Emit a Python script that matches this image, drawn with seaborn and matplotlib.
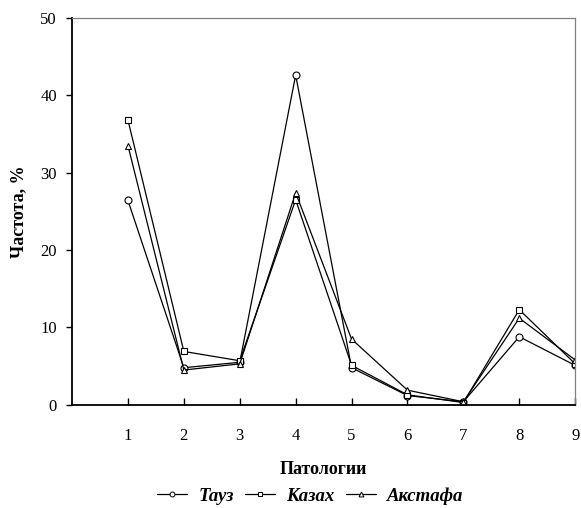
import matplotlib
matplotlib.use("Agg")
import matplotlib.pyplot as plt
import seaborn as sns
import pandas as pd
from matplotlib.lines import Line2D

categories = [1, 2, 3, 4, 5, 6, 7, 8, 9]
tauz = [26.4, 4.8, 5.5, 42.6, 4.8, 1.2, 0.4, 8.8, 5.1]
kazakh = [36.8, 6.9, 5.7, 26.5, 5.1, 1.3, 0.3, 12.3, 5.3]
akstafa = [33.5, 4.5, 5.3, 27.4, 8.5, 1.9, 0.4, 11.2, 5.8]
series_names = ["Тауз", "Казах", "Акстафа"]
markers = ["o", "s", "^"]

sns.set_theme(style="white")
plt.rcParams["font.family"] = ["Liberation Serif", "DejaVu Serif"]
plt.rcParams["text.color"] = "black"
plt.rcParams["axes.labelcolor"] = "black"
plt.rcParams["xtick.color"] = "black"
plt.rcParams["ytick.color"] = "black"

fig = plt.figure(figsize=(5.81, 5.08), dpi=100)
ax = fig.add_axes([0.124, 0.203, 0.866, 0.762])

handles = []
for name, vals, m in zip(series_names, [tauz, kazakh, akstafa], markers):
    df = pd.DataFrame({"x": categories, "y": vals})
    sns.lineplot(data=df, x="x", y="y", ax=ax, color="black", lw=0.9,
                 marker=m, markersize=5, markerfacecolor="white",
                 markeredgecolor="black", markeredgewidth=0.8)
    handles.append(Line2D([], [], color="black", lw=0.9, marker=m, markersize=3.5,
                          markerfacecolor="white", markeredgecolor="black",
                          markeredgewidth=0.7, label=name))

ax.set_xlim(0, 9)
ax.set_ylim(0, 50)
ax.set_xticks(categories)
ax.set_yticks([0, 10, 20, 30, 40, 50])
ax.tick_params(axis="x", direction="in", length=5, width=1, pad=17, labelsize=12,
               colors="black", labelcolor="black")
ax.tick_params(axis="y", direction="out", length=4, width=1, pad=7, labelsize=12,
               colors="black", labelcolor="black")
ax.xaxis.set_ticks_position("bottom")
ax.yaxis.set_ticks_position("left")

for s in ["left", "bottom"]:
    ax.spines[s].set_color("black")
    ax.spines[s].set_linewidth(1.3)
for s in ["top", "right"]:
    ax.spines[s].set_color("#808080")
    ax.spines[s].set_linewidth(0.9)

ax.set_xlabel("Патологии", fontsize=13, fontweight="bold", labelpad=12, color="black")
ax.set_ylabel("Частота, %", fontsize=13, fontweight="bold", labelpad=9, color="black")

fig.legend(handles=handles, loc="center", bbox_to_anchor=(0.534, 0.024), ncol=3,
           frameon=False, handlelength=1.6, handletextpad=0.6, columnspacing=0.6,
           labelcolor="black",
           prop={"family": "Liberation Serif", "style": "italic", "weight": "bold", "size": 13.5})

fig.savefig("out.png", dpi=100, facecolor="white")
